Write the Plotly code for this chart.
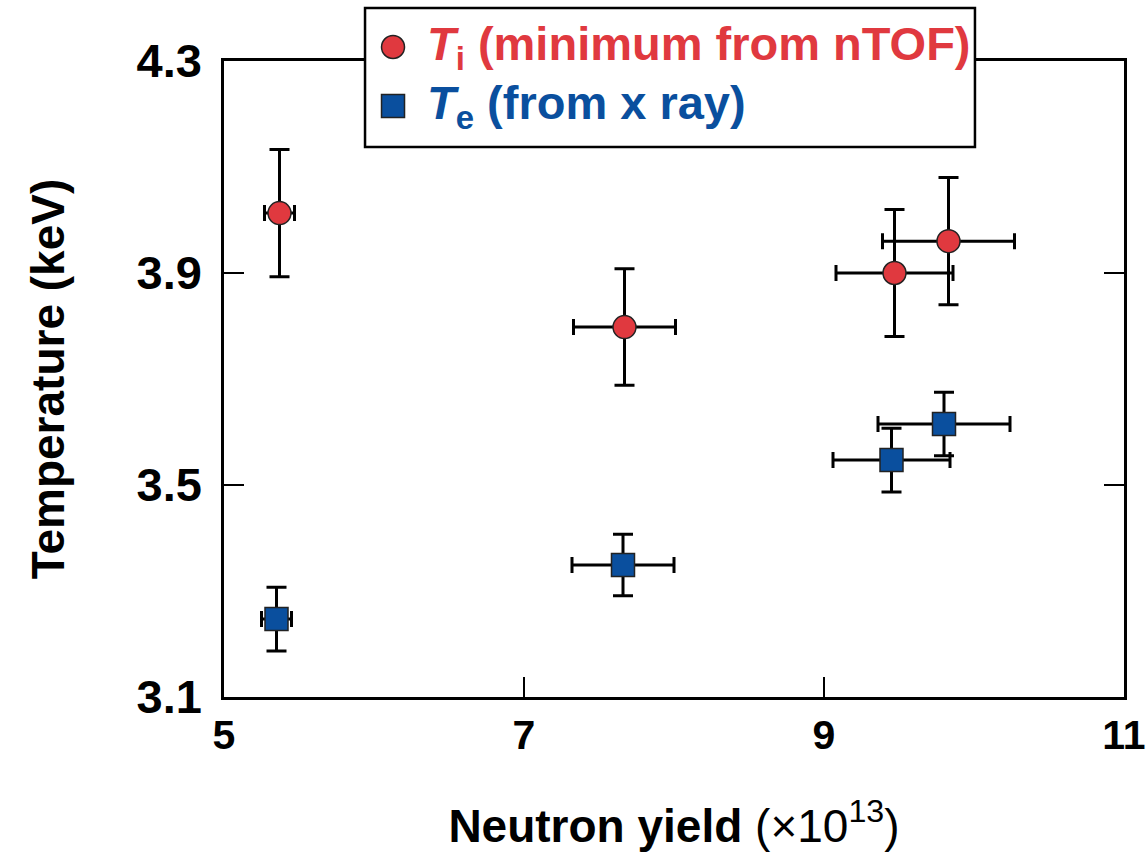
import plotly.graph_objects as go

# Data
ti_yield = [5.37, 7.67, 9.47, 9.83]
ti_yield_err = [0.10, 0.34, 0.39, 0.44]
ti_temp = [4.013, 3.798, 3.90, 3.96]
ti_temp_err = [0.12, 0.11, 0.12, 0.12]

te_yield = [5.35, 7.66, 9.45, 9.80]
te_yield_err = [0.10, 0.34, 0.39, 0.44]
te_temp = [3.247, 3.349, 3.547, 3.615]
te_temp_err = [0.06, 0.058, 0.06, 0.06]

x_ticks = [5, 7, 9, 11]
y_ticks = [3.1, 3.5, 3.9, 4.3]

ti_label = "<b><i>T</i><sub>i</sub> (minimum from nTOF)</b>"
te_label = "<b><i>T</i><sub>e</sub> (from x ray)</b>"

RED = "#E0393F"
BLUE = "#0A4F9E"
FONT = "Liberation Sans, Arial, sans-serif"

fig = go.Figure()
fig.add_trace(go.Scatter(
    x=ti_yield, y=ti_temp, mode="markers", name="Ti", showlegend=False,
    marker=dict(symbol="circle", size=23, color=RED, line=dict(color="#222", width=1.5)),
    error_x=dict(type="data", array=ti_yield_err, color="black", thickness=3, width=8),
    error_y=dict(type="data", array=ti_temp_err, color="black", thickness=3, width=10),
))
fig.add_trace(go.Scatter(
    x=te_yield, y=te_temp, mode="markers", name="Te", showlegend=False,
    marker=dict(symbol="square", size=23, color=BLUE, line=dict(color="#222", width=1.5)),
    error_x=dict(type="data", array=te_yield_err, color="black", thickness=3, width=8),
    error_y=dict(type="data", array=te_temp_err, color="black", thickness=3, width=10),
))

axis_common = dict(
    showline=True, linecolor="black", linewidth=2.5, mirror="ticks",
    ticks="inside", ticklen=20, tickwidth=2, tickcolor="black",
    showgrid=False, zeroline=False, automargin=False,
    ticklabeloverflow="allow",
)

# Manual legend (box, symbols, coloured labels)
shapes = [
    dict(type="rect", xref="paper", yref="paper", x0=0.1567, x1=0.8344, y0=0.8648, y1=1.0833,
         line=dict(color="black", width=2.5), fillcolor="white", layer="above"),
    dict(type="circle", xref="paper", yref="paper", xsizemode="pixel", ysizemode="pixel",
         xanchor=0.1878, yanchor=1.022, x0=-11.5, x1=11.5, y0=-11.5, y1=11.5,
         fillcolor=RED, line=dict(color="#222", width=1.5), layer="above"),
    dict(type="rect", xref="paper", yref="paper", xsizemode="pixel", ysizemode="pixel",
         xanchor=0.1878, yanchor=0.9292, x0=-11.5, x1=11.5, y0=-11.5, y1=11.5,
         fillcolor=BLUE, line=dict(color="#222", width=1.5), layer="above"),
]
annotations = [
    dict(xref="paper", yref="paper", x=0.2233, y=1.022, xanchor="left", yanchor="middle",
         text=ti_label, showarrow=False, font=dict(family=FONT, size=47, color=RED)),
    dict(xref="paper", yref="paper", x=0.2233, y=0.9292, xanchor="left", yanchor="middle",
         text=te_label, showarrow=False, font=dict(family=FONT, size=47, color=BLUE)),
]

fig.update_layout(
    width=1147, height=855,
    margin=dict(l=224, r=23, t=61, b=158),
    paper_bgcolor="white", plot_bgcolor="white",
    font=dict(family=FONT, color="black"),
    showlegend=False,
    shapes=shapes, annotations=annotations,
    xaxis=dict(
        range=[5, 11], tickvals=x_ticks, ticktext=[str(v) for v in x_ticks],
        ticklabelstandoff=0,
        tickfont=dict(family=FONT, size=41, color="black", weight="bold"),
        title=dict(text="<b>Neutron yield</b> (×10<sup>13</sup>)",
                   font=dict(family=FONT, size=46, color="black"), standoff=53),
        **axis_common,
    ),
    yaxis=dict(
        range=[3.1, 4.3], tickvals=y_ticks, ticktext=[f"{v:.1f}" for v in y_ticks],
        ticklabelstandoff=10,
        tickfont=dict(family=FONT, size=47, color="black", weight="bold"),
        title=dict(text="<b>Temperature (keV)</b>",
                   font=dict(family=FONT, size=46, color="black"), standoff=58),
        **axis_common,
    ),
)

fig.write_html("out.html")
